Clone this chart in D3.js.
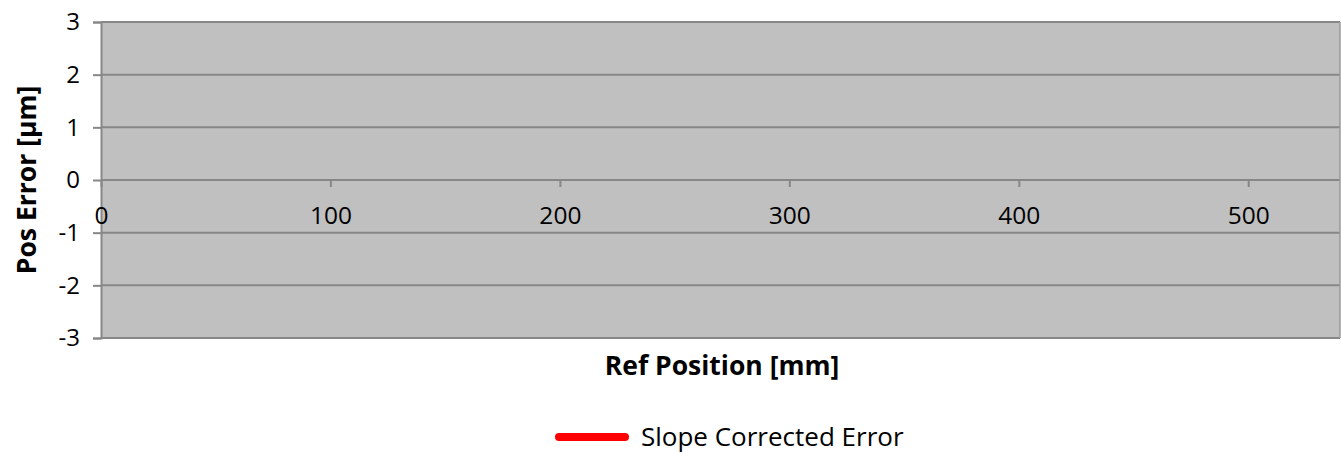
<!DOCTYPE html>
<html><head><meta charset="utf-8">
<script src="https://cdn.jsdelivr.net/npm/d3@7"></script>
<style>body{margin:0;background:#fff}svg{display:block}text{font-family:"Open Sans",sans-serif}</style>
</head><body>
<svg id="c" width="1341" height="453"></svg>
<script>
const seriesName = "Slope Corrected Error";
const refPositions = [];   // no visible data points in the reference
const errorValues = [];
const xTicks = [0, 100, 200, 300, 400, 500];
const yTicks = [-3, -2, -1, 0, 1, 2, 3];
const xDomain = [0, 540];
const yDomain = [-3, 3];

const svg = d3.select("#c");
const m = {l: 101, r: 1340, t: 22, b: 338};
const x = d3.scaleLinear().domain(xDomain).range([m.l, m.r]);
const y = d3.scaleLinear().domain(yDomain).range([m.b, m.t]);

svg.append("rect").attr("x", m.l).attr("y", m.t).attr("width", m.r - m.l).attr("height", m.b - m.t)
  .attr("fill", "#c0c0c0");

svg.append("g").selectAll("line").data(yTicks).join("line")
  .attr("x1", m.l).attr("x2", m.r).attr("y1", d => y(d)).attr("y2", d => y(d))
  .attr("stroke", "#878787").attr("stroke-width", 2);
svg.append("line").attr("x1", m.r).attr("x2", m.r).attr("y1", m.t).attr("y2", m.b)
  .attr("stroke", "#9a9a9a").attr("stroke-width", 1.5);

const ya = svg.append("g").attr("transform", `translate(${m.l},0)`)
  .call(d3.axisLeft(y).tickValues(yTicks).tickSize(8).tickPadding(13).tickFormat(d3.format("d")));
ya.select(".domain").attr("stroke", "#878787").attr("stroke-width", 2);
ya.selectAll(".tick line").attr("stroke", "#878787").attr("stroke-width", 2);
ya.selectAll(".tick text").attr("font-size", 24).attr("fill", "#000")
  .attr("font-family", "Open Sans").text(d => d < 0 ? "-" + Math.abs(d) : d);

const xa = svg.append("g").attr("transform", `translate(0,${y(0)})`)
  .call(d3.axisBottom(x).tickValues(xTicks).tickSize(7).tickPadding(20).tickFormat(d3.format("d")));
xa.select(".domain").remove();
xa.selectAll(".tick line").attr("stroke", "#878787").attr("stroke-width", 2);
xa.selectAll(".tick text").attr("font-size", 24.5).attr("fill", "#000").attr("font-family", "Open Sans");

const line = d3.line().x(d => x(d[0])).y(d => y(d[1]));
svg.append("path").datum(d3.zip(refPositions, errorValues))
  .attr("d", line).attr("fill", "none").attr("stroke", "#ff0000").attr("stroke-width", 3);

svg.append("text").attr("x", 722).attr("y", 375).attr("text-anchor", "middle")
  .attr("font-size", 26.5).attr("font-weight", "bold").text("Ref Position [mm]");
svg.append("text").attr("transform", "translate(36,180) rotate(-90)").attr("text-anchor", "middle")
  .attr("font-size", 26.5).attr("font-weight", "bold").text("Pos Error [µm]");

svg.append("line").attr("x1", 559).attr("x2", 625).attr("y1", 437).attr("y2", 437)
  .attr("stroke", "#ff0000").attr("stroke-width", 8).attr("stroke-linecap", "round");
svg.append("text").attr("x", 641).attr("y", 446).attr("font-size", 26).text(seriesName);
</script>
</body></html>
